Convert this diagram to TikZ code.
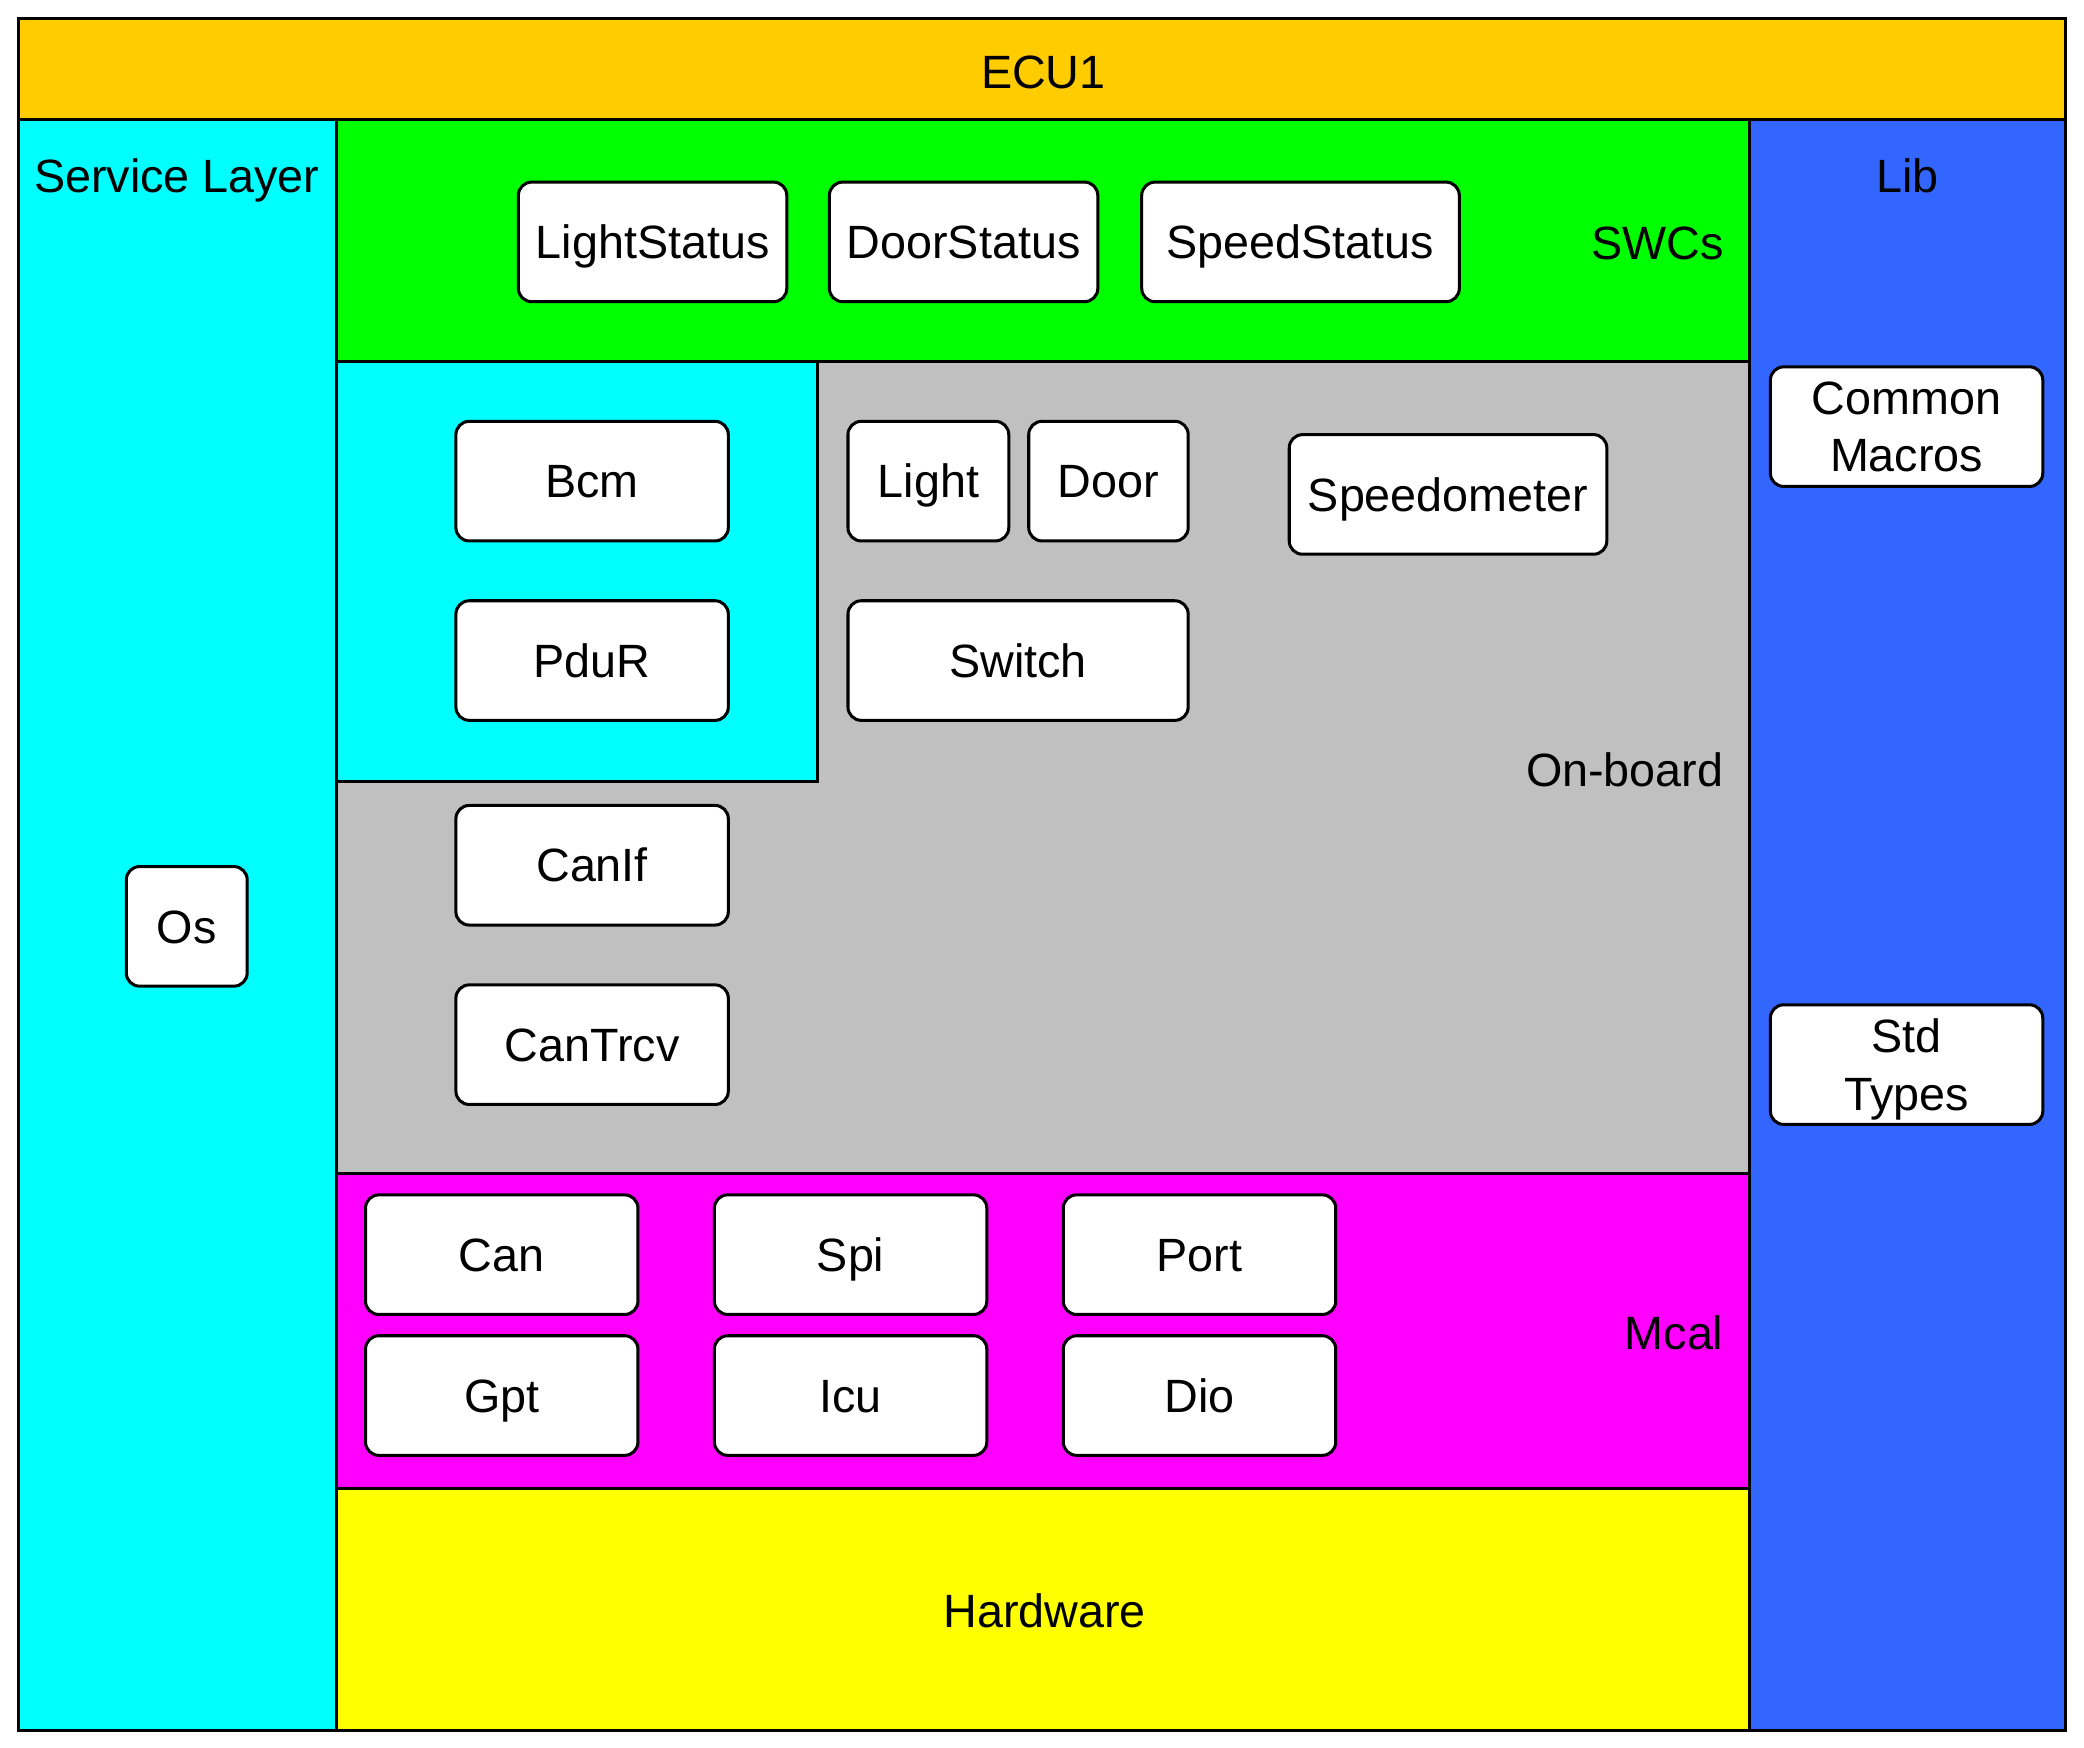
\documentclass[tikz,border=0pt]{standalone}
\usepackage{fontspec}
\setmainfont{Liberation Sans}
\usepackage{tikz}
\definecolor{ecuorange}{HTML}{FFCC00}
\definecolor{svccyan}{HTML}{00FFFF}
\definecolor{swcgreen}{HTML}{00FF00}
\definecolor{boardgray}{HTML}{C0C0C0}
\definecolor{mcalmagenta}{HTML}{FF00FF}
\definecolor{hwyellow}{HTML}{FFFF00}
\definecolor{libblue}{HTML}{3366FF}
\tikzset{
	layer/.style={draw=black, line width=1.3pt},
	comp/.style={draw=black, fill=white, line width=1.3pt, rounded corners=0.2cm,
		minimum width=4.1cm, minimum height=1.8cm, inner sep=0pt, align=center,
		text height=14.3pt, text depth=0pt},
	twoline/.style={text height=, text depth=},
	tag/.style={inner sep=0pt, align=center, text height=14.3pt, text depth=0pt}
}

\begin{document}
\begin{tikzpicture}[x=0.02cm, y=-0.02cm, font=\fontsize{20}{24.5}\selectfont]
		%%%%% START %%%%%
		\useasboundingbox (0, 0) rectangle (1568, 1315);
		
		% layers
		\draw[layer, fill=ecuorange] (14, 14) rectangle (1554, 90);
		\draw[layer, fill=svccyan] (14, 90) rectangle (253, 1302);
		\draw[layer, fill=libblue] (1316, 90) rectangle (1554, 1302);
		\draw[layer, fill=swcgreen] (253, 90) rectangle (1316, 272);
		\draw[layer, fill=boardgray] (253, 272) rectangle (1316, 883);
		\draw[layer, fill=svccyan] (253, 272) rectangle (615, 588);
		\draw[layer, fill=mcalmagenta] (253, 883) rectangle (1316, 1120);
		\draw[layer, fill=hwyellow] (253, 1120) rectangle (1316, 1302);
		
		% layer names
		\node[tag] (ecu) at (785, 54) {ECU1};
		\node[tag] (service) at (133, 132) {Service Layer};
		\node[tag] (lib) at (1435, 132) {Lib};
		\node[tag, anchor=east] (swcs) at (1297, 183) {SWCs};
		\node[tag, anchor=east] (onboard) at (1297, 579) {On-board};
		\node[tag, anchor=east] (mcal) at (1297, 1003) {Mcal};
		\node[tag] (hardware) at (786, 1212) {Hardware};
		
		% SWCs
		\node[comp, minimum width=4.04cm] (lightstatus) at (491, 182) {LightStatus};
		\node[comp, minimum width=4.04cm] (doorstatus) at (725, 182) {DoorStatus};
		\node[comp, minimum width=4.78cm] (speedstatus) at (978.5, 182) {SpeedStatus};
		
		% on-board
		\node[comp] (bcm) at (445.5, 362) {Bcm};
		\node[comp] (pdur) at (445.5, 497) {PduR};
		\node[comp] (canif) at (445.5, 651) {CanIf};
		\node[comp] (cantrcv) at (445.5, 786) {CanTrcv};
		\node[comp, minimum width=2.42cm] (light) at (698.5, 362) {Light};
		\node[comp, minimum width=2.4cm] (door) at (834, 362) {Door};
		\node[comp, minimum width=4.78cm] (speedometer) at (1089.5, 372) {Speedometer};
		\node[comp, minimum width=5.12cm] (switch) at (766, 497) {Switch};
		
		% service layer and lib
		\node[comp, minimum width=1.82cm] (os) at (140.5, 697) {Os};
		\node[comp, twoline] (macros) at (1434.5, 321) {Common\\\smash{Macros}};
		\node[comp, twoline] (stdtypes) at (1434.5, 801) {Std\\\smash{Types}};
		
		% mcal
		\node[comp] (can) at (377.5, 944) {Can};
		\node[comp] (spi) at (640, 944) {Spi};
		\node[comp] (port) at (902.5, 944) {Port};
		\node[comp] (gpt) at (377.5, 1050) {Gpt};
		\node[comp] (icu) at (640, 1050) {Icu};
		\node[comp] (dio) at (902.5, 1050) {Dio};
		%%%%% END %%%%%
	\end{tikzpicture}
\end{document}
